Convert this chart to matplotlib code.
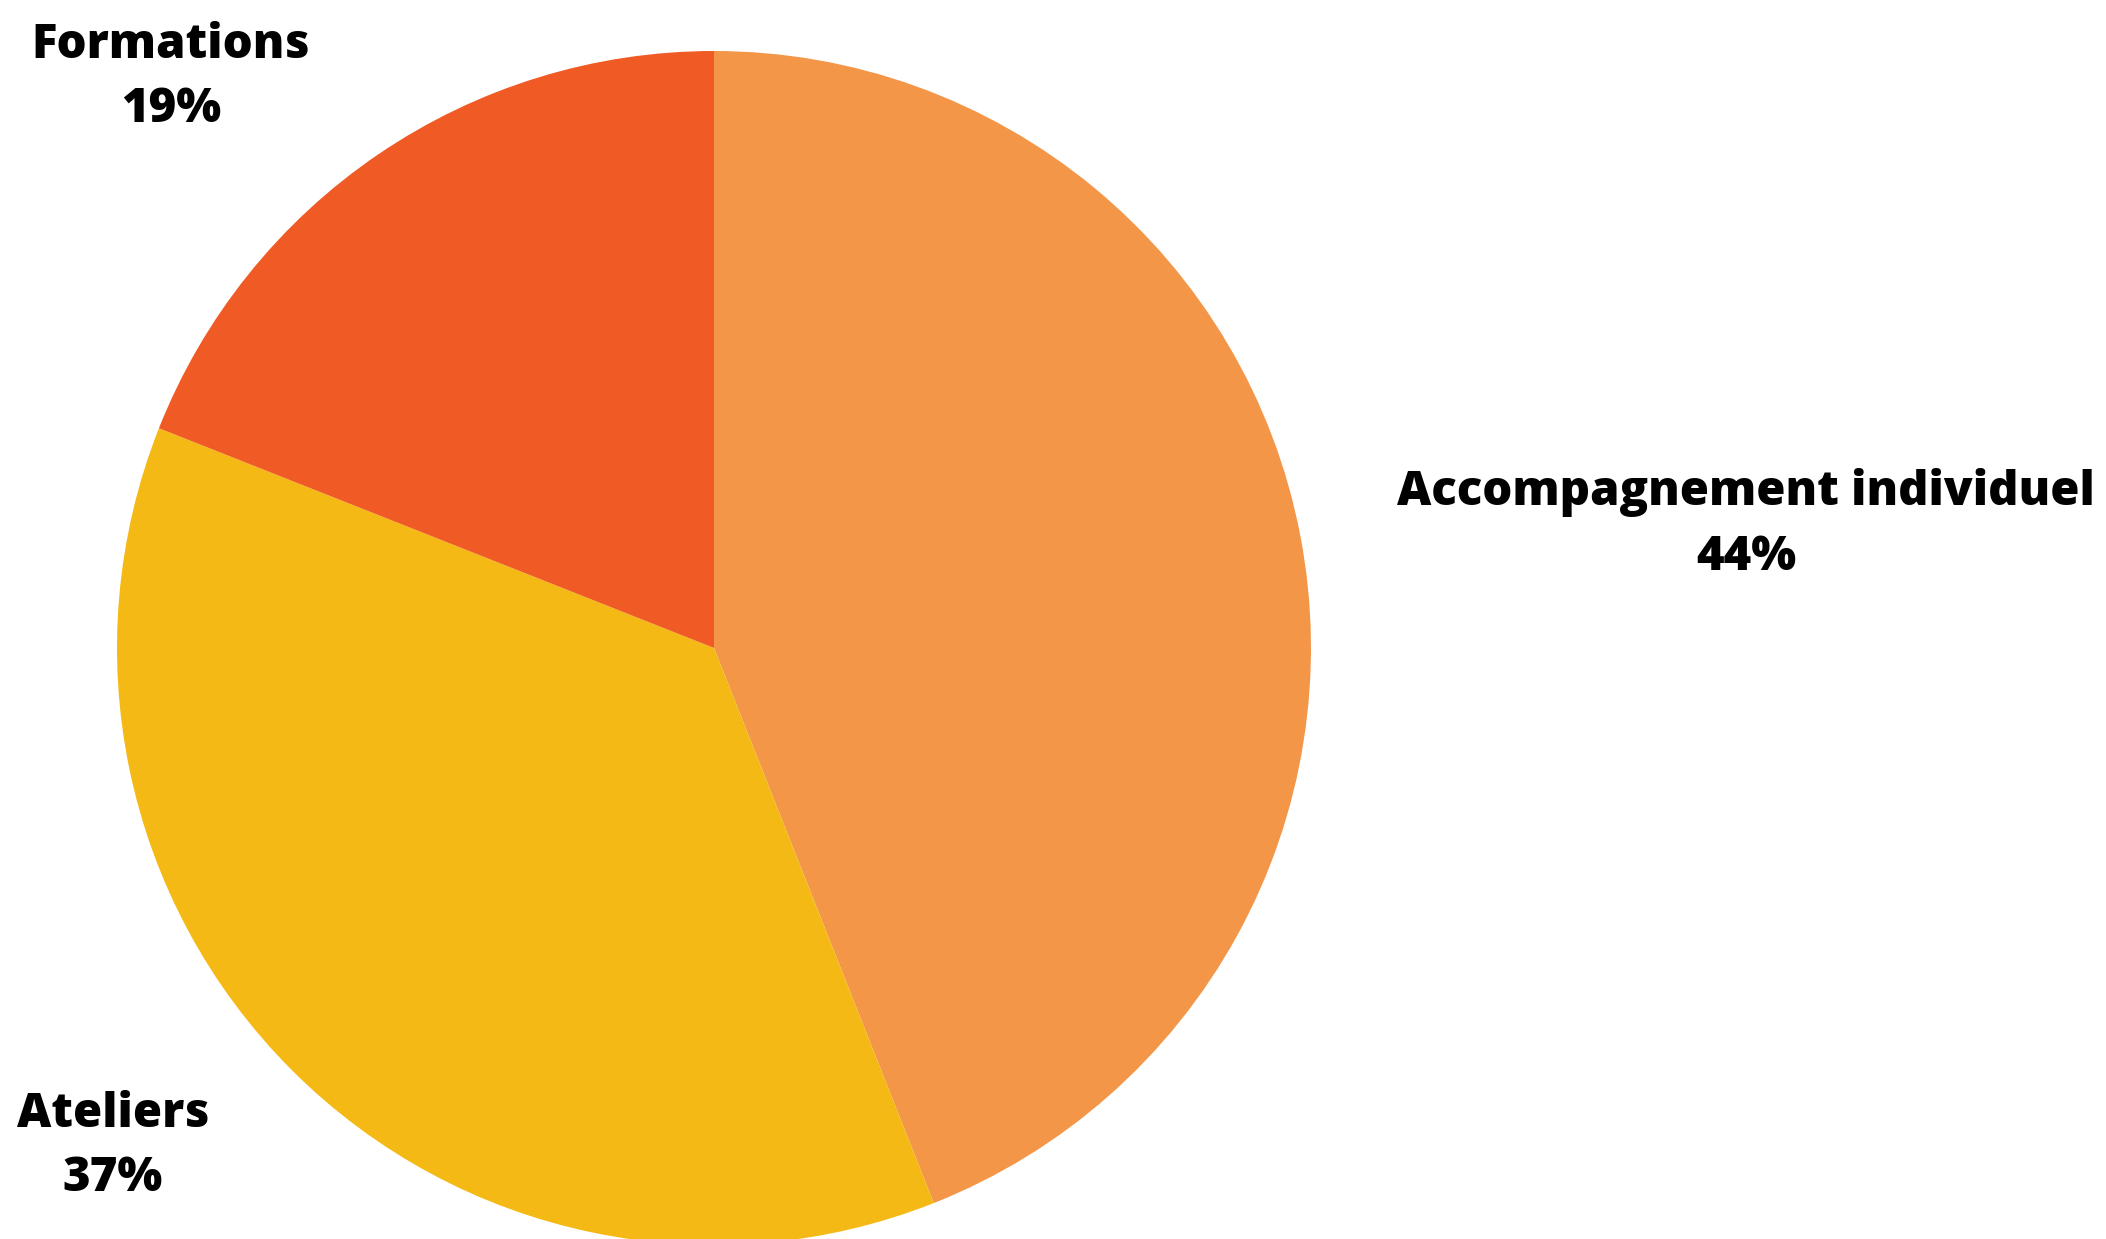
import matplotlib
matplotlib.use("Agg")
import matplotlib.pyplot as plt

categories = ["Accompagnement individuel", "Ateliers", "Formations"]
values = [44, 37, 19]
colors = ["#F39648", "#F4B915", "#F05A24"]

W, H = 2106, 1239
fig = plt.figure(figsize=(W / 100, H / 100), dpi=100)
fig.patch.set_facecolor("white")

cx, cy, r = 714, 648, 597
ax = fig.add_axes([(cx - r) / W, (H - cy - r) / H, 2 * r / W, 2 * r / H])
ax.pie(values, colors=colors, startangle=90, counterclock=False,
       radius=1, wedgeprops=dict(linewidth=0))
ax.set_xlim(-1, 1)
ax.set_ylim(-1, 1)
ax.set_aspect("equal")
ax.axis("off")

label_pos = {
    "Accompagnement individuel": (1746, 525),
    "Ateliers": (113, 1147),
    "Formations": (171, 78),
}
for cat, val in zip(categories, values):
    x, y = label_pos[cat]
    fig.text(x / W, 1 - y / H, f"{cat}\n{val}%", ha="center", va="center",
             fontsize=34, fontweight="heavy", family=["Open Sans", "DejaVu Sans"],
             linespacing=1.47, color="black")

fig.savefig("out.png", dpi=100)
